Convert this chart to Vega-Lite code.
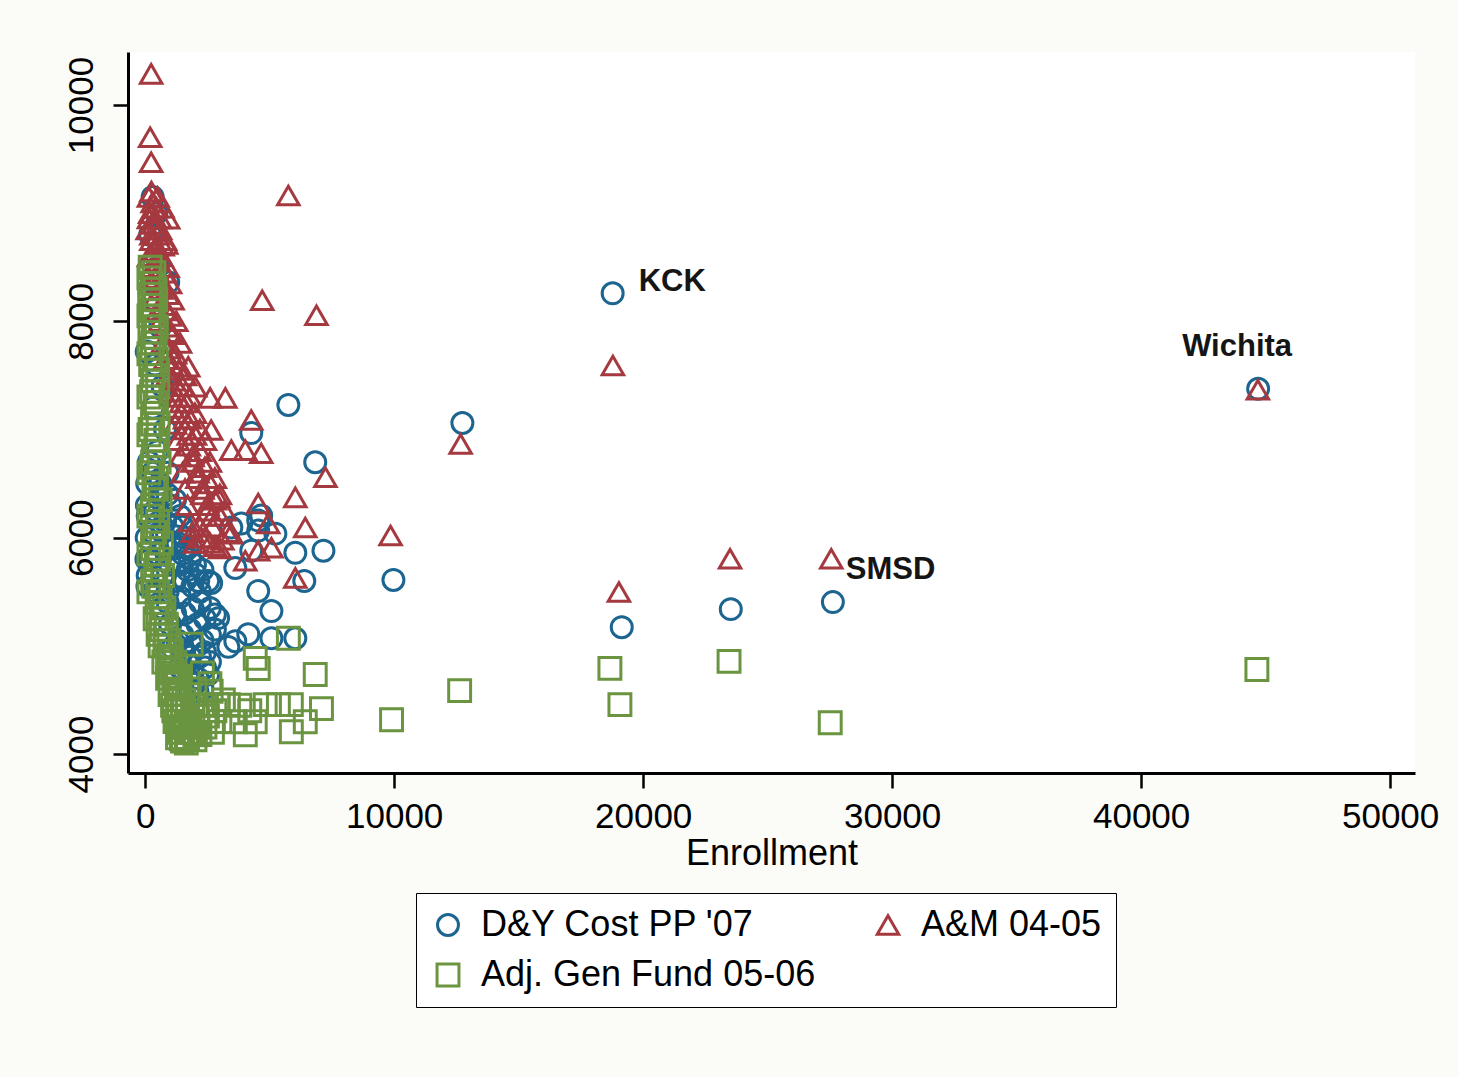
{
  "$schema": "https://vega.github.io/schema/vega-lite/v6.json",
  "width": 1287,
  "height": 721,
  "autosize": "none",
  "padding": {"left": 128, "top": 52, "right": 43, "bottom": 304},
  "background": "#fbfbf8",
  "config": {"view": {"stroke": null, "fill": "white"}, "font": "Liberation Sans"},
  "layer": [
    {
      "data": {"values": [
        {"s":"D&Y Cost PP '07","e":18775,"v":8259},{"s":"D&Y Cost PP '07","e":44700,"v":7376},{"s":"D&Y Cost PP '07","e":27620,"v":5404},{"s":"D&Y Cost PP '07","e":23520,"v":5339},{"s":"D&Y Cost PP '07","e":19140,"v":5172},{"s":"D&Y Cost PP '07","e":12740,"v":7060},{"s":"D&Y Cost PP '07","e":9970,"v":5609},{"s":"D&Y Cost PP '07","e":5750,"v":7227},{"s":"D&Y Cost PP '07","e":7160,"v":5879},{"s":"D&Y Cost PP '07","e":6030,"v":5860},{"s":"D&Y Cost PP '07","e":6390,"v":5600},{"s":"D&Y Cost PP '07","e":6830,"v":6697},{"s":"D&Y Cost PP '07","e":4260,"v":6967},{"s":"D&Y Cost PP '07","e":3620,"v":5720},{"s":"D&Y Cost PP '07","e":4540,"v":5507},{"s":"D&Y Cost PP '07","e":5070,"v":5321},{"s":"D&Y Cost PP '07","e":6030,"v":5070},{"s":"D&Y Cost PP '07","e":5070,"v":5070},{"s":"D&Y Cost PP '07","e":3620,"v":5042},{"s":"D&Y Cost PP '07","e":4140,"v":5107},{"s":"D&Y Cost PP '07","e":2930,"v":5256},{"s":"D&Y Cost PP '07","e":2530,"v":5600},{"s":"D&Y Cost PP '07","e":2130,"v":5600},{"s":"D&Y Cost PP '07","e":3460,"v":6093},{"s":"D&Y Cost PP '07","e":3860,"v":6130},{"s":"D&Y Cost PP '07","e":4540,"v":6065},{"s":"D&Y Cost PP '07","e":5230,"v":6037},{"s":"D&Y Cost PP '07","e":4540,"v":6158},{"s":"D&Y Cost PP '07","e":4260,"v":5879},{"s":"D&Y Cost PP '07","e":4660,"v":6204},{"s":"D&Y Cost PP '07","e":3340,"v":4990},{"s":"D&Y Cost PP '07","e":2650,"v":5581},{"s":"D&Y Cost PP '07","e":2010,"v":5665},{"s":"D&Y Cost PP '07","e":2530,"v":4735},{"s":"D&Y Cost PP '07","e":2400,"v":4940},{"s":"D&Y Cost PP '07","e":2800,"v":5290},
        {"s":"D&Y Cost PP '07","e":300,"v":9150},{"s":"D&Y Cost PP '07","e":450,"v":9000},{"s":"D&Y Cost PP '07","e":200,"v":8800},{"s":"D&Y Cost PP '07","e":925,"v":8361},{"s":"D&Y Cost PP '07","e":500,"v":8500},{"s":"D&Y Cost PP '07","e":350,"v":8200},{"s":"D&Y Cost PP '07","e":600,"v":7950},{"s":"D&Y Cost PP '07","e":60,"v":7720},{"s":"D&Y Cost PP '07","e":400,"v":7600},{"s":"D&Y Cost PP '07","e":700,"v":7400},{"s":"D&Y Cost PP '07","e":300,"v":7200},{"s":"D&Y Cost PP '07","e":800,"v":7000},{"s":"D&Y Cost PP '07","e":500,"v":6800},{"s":"D&Y Cost PP '07","e":150,"v":6700},{"s":"D&Y Cost PP '07","e":900,"v":6600},{"s":"D&Y Cost PP '07","e":600,"v":6400},{"s":"D&Y Cost PP '07","e":1000,"v":6300},{"s":"D&Y Cost PP '07","e":100,"v":6200},{"s":"D&Y Cost PP '07","e":1100,"v":6100},{"s":"D&Y Cost PP '07","e":700,"v":6050},{"s":"D&Y Cost PP '07","e":60,"v":6000},{"s":"D&Y Cost PP '07","e":1300,"v":5950},{"s":"D&Y Cost PP '07","e":800,"v":5900},{"s":"D&Y Cost PP '07","e":1500,"v":5850},{"s":"D&Y Cost PP '07","e":200,"v":5800},{"s":"D&Y Cost PP '07","e":1000,"v":5750},{"s":"D&Y Cost PP '07","e":1700,"v":5700},{"s":"D&Y Cost PP '07","e":100,"v":5650},{"s":"D&Y Cost PP '07","e":1200,"v":5600},{"s":"D&Y Cost PP '07","e":1900,"v":5550},{"s":"D&Y Cost PP '07","e":400,"v":5500},{"s":"D&Y Cost PP '07","e":1400,"v":5450},{"s":"D&Y Cost PP '07","e":2200,"v":5400},{"s":"D&Y Cost PP '07","e":700,"v":5350},{"s":"D&Y Cost PP '07","e":1600,"v":5300},{"s":"D&Y Cost PP '07","e":2400,"v":5250},{"s":"D&Y Cost PP '07","e":1000,"v":5200},{"s":"D&Y Cost PP '07","e":1800,"v":5150},{"s":"D&Y Cost PP '07","e":2600,"v":5100},{"s":"D&Y Cost PP '07","e":1300,"v":5050},{"s":"D&Y Cost PP '07","e":2000,"v":5000},{"s":"D&Y Cost PP '07","e":1500,"v":4950},{"s":"D&Y Cost PP '07","e":2200,"v":4900},{"s":"D&Y Cost PP '07","e":1700,"v":4850},{"s":"D&Y Cost PP '07","e":2400,"v":4800},{"s":"D&Y Cost PP '07","e":1900,"v":4750},{"s":"D&Y Cost PP '07","e":2100,"v":4700},{"s":"D&Y Cost PP '07","e":1800,"v":4600},{"s":"D&Y Cost PP '07","e":2100,"v":4577},{"s":"D&Y Cost PP '07","e":1200,"v":5900},{"s":"D&Y Cost PP '07","e":900,"v":5500},{"s":"D&Y Cost PP '07","e":1600,"v":6000},{"s":"D&Y Cost PP '07","e":2300,"v":5700},{"s":"D&Y Cost PP '07","e":1400,"v":6200},{"s":"D&Y Cost PP '07","e":1800,"v":5800},{"s":"D&Y Cost PP '07","e":80,"v":6500},{"s":"D&Y Cost PP '07","e":50,"v":5800},{"s":"D&Y Cost PP '07","e":90,"v":5550},{"s":"D&Y Cost PP '07","e":70,"v":6300},
        {"s":"D&Y Cost PP '07","e":300,"v":6600},{"s":"D&Y Cost PP '07","e":600,"v":6500},{"s":"D&Y Cost PP '07","e":900,"v":6400},{"s":"D&Y Cost PP '07","e":1200,"v":6350},{"s":"D&Y Cost PP '07","e":400,"v":6250},{"s":"D&Y Cost PP '07","e":800,"v":6150},{"s":"D&Y Cost PP '07","e":1500,"v":6100},{"s":"D&Y Cost PP '07","e":300,"v":6050},{"s":"D&Y Cost PP '07","e":1100,"v":5950},{"s":"D&Y Cost PP '07","e":1700,"v":5900},{"s":"D&Y Cost PP '07","e":500,"v":5850},{"s":"D&Y Cost PP '07","e":1400,"v":5750},{"s":"D&Y Cost PP '07","e":2000,"v":5750},{"s":"D&Y Cost PP '07","e":700,"v":5650},{"s":"D&Y Cost PP '07","e":1600,"v":5600},{"s":"D&Y Cost PP '07","e":2200,"v":5500},{"s":"D&Y Cost PP '07","e":900,"v":5400},{"s":"D&Y Cost PP '07","e":1900,"v":5350},{"s":"D&Y Cost PP '07","e":2600,"v":5350},{"s":"D&Y Cost PP '07","e":1200,"v":5300},{"s":"D&Y Cost PP '07","e":2100,"v":5200},{"s":"D&Y Cost PP '07","e":2800,"v":5150},{"s":"D&Y Cost PP '07","e":1500,"v":5100},{"s":"D&Y Cost PP '07","e":2300,"v":5050},{"s":"D&Y Cost PP '07","e":1100,"v":4980},{"s":"D&Y Cost PP '07","e":1800,"v":4900},{"s":"D&Y Cost PP '07","e":2600,"v":4850},{"s":"D&Y Cost PP '07","e":1400,"v":4800},{"s":"D&Y Cost PP '07","e":2000,"v":4650},{"s":"D&Y Cost PP '07","e":2300,"v":4600},

        {"s":"A&M 04-05","e":240,"v":10288},{"s":"A&M 04-05","e":200,"v":9702},{"s":"A&M 04-05","e":240,"v":9470},{"s":"A&M 04-05","e":5750,"v":9163},{"s":"A&M 04-05","e":4700,"v":8195},{"s":"A&M 04-05","e":6880,"v":8056},{"s":"A&M 04-05","e":18785,"v":7591},{"s":"A&M 04-05","e":44690,"v":7367},{"s":"A&M 04-05","e":9855,"v":6019},{"s":"A&M 04-05","e":12670,"v":6865},{"s":"A&M 04-05","e":23490,"v":5805},{"s":"A&M 04-05","e":27555,"v":5805},{"s":"A&M 04-05","e":19027,"v":5498},
        {"s":"A&M 04-05","e":925,"v":8948},{"s":"A&M 04-05","e":845,"v":8715},{"s":"A&M 04-05","e":1730,"v":7580},{"s":"A&M 04-05","e":2010,"v":7395},{"s":"A&M 04-05","e":2610,"v":7292},{"s":"A&M 04-05","e":3220,"v":7292},{"s":"A&M 04-05","e":4260,"v":7088},{"s":"A&M 04-05","e":2650,"v":6995},{"s":"A&M 04-05","e":3460,"v":6809},{"s":"A&M 04-05","e":4020,"v":6809},{"s":"A&M 04-05","e":4660,"v":6781},{"s":"A&M 04-05","e":2930,"v":6372},{"s":"A&M 04-05","e":4540,"v":6316},{"s":"A&M 04-05","e":6030,"v":6372},{"s":"A&M 04-05","e":7240,"v":6558},{"s":"A&M 04-05","e":6430,"v":6093},{"s":"A&M 04-05","e":3460,"v":6037},{"s":"A&M 04-05","e":2250,"v":6000},{"s":"A&M 04-05","e":4940,"v":6130},{"s":"A&M 04-05","e":5070,"v":5907},{"s":"A&M 04-05","e":4540,"v":5879},{"s":"A&M 04-05","e":4020,"v":5786},{"s":"A&M 04-05","e":6030,"v":5628},
        {"s":"A&M 04-05","e":150,"v":9150},{"s":"A&M 04-05","e":300,"v":9100},{"s":"A&M 04-05","e":450,"v":9050},{"s":"A&M 04-05","e":200,"v":9000},{"s":"A&M 04-05","e":600,"v":8950},{"s":"A&M 04-05","e":350,"v":8900},{"s":"A&M 04-05","e":100,"v":8850},{"s":"A&M 04-05","e":500,"v":8800},{"s":"A&M 04-05","e":250,"v":8750},{"s":"A&M 04-05","e":700,"v":8700},{"s":"A&M 04-05","e":400,"v":8650},{"s":"A&M 04-05","e":150,"v":8600},{"s":"A&M 04-05","e":550,"v":8550},{"s":"A&M 04-05","e":300,"v":8500},{"s":"A&M 04-05","e":800,"v":8450},{"s":"A&M 04-05","e":450,"v":8400},{"s":"A&M 04-05","e":200,"v":8350},{"s":"A&M 04-05","e":650,"v":8300},{"s":"A&M 04-05","e":900,"v":8250},{"s":"A&M 04-05","e":350,"v":8200},{"s":"A&M 04-05","e":750,"v":8150},{"s":"A&M 04-05","e":500,"v":8100},{"s":"A&M 04-05","e":1000,"v":8050},{"s":"A&M 04-05","e":600,"v":8000},{"s":"A&M 04-05","e":850,"v":7950},{"s":"A&M 04-05","e":1100,"v":7880},{"s":"A&M 04-05","e":700,"v":7800},{"s":"A&M 04-05","e":950,"v":7750},{"s":"A&M 04-05","e":1200,"v":7700},{"s":"A&M 04-05","e":800,"v":7650},{"s":"A&M 04-05","e":1050,"v":7600},{"s":"A&M 04-05","e":1350,"v":7550},{"s":"A&M 04-05","e":900,"v":7500},{"s":"A&M 04-05","e":1150,"v":7450},{"s":"A&M 04-05","e":1500,"v":7400},{"s":"A&M 04-05","e":1000,"v":7350},{"s":"A&M 04-05","e":1300,"v":7300},{"s":"A&M 04-05","e":1650,"v":7250},{"s":"A&M 04-05","e":1100,"v":7200},{"s":"A&M 04-05","e":1450,"v":7150},{"s":"A&M 04-05","e":1800,"v":7100},{"s":"A&M 04-05","e":1200,"v":7050},{"s":"A&M 04-05","e":1600,"v":7000},{"s":"A&M 04-05","e":2000,"v":6950},{"s":"A&M 04-05","e":1300,"v":6900},{"s":"A&M 04-05","e":1750,"v":6850},{"s":"A&M 04-05","e":2200,"v":6800},{"s":"A&M 04-05","e":1400,"v":6750},{"s":"A&M 04-05","e":1900,"v":6700},{"s":"A&M 04-05","e":2400,"v":6650},{"s":"A&M 04-05","e":1500,"v":6600},{"s":"A&M 04-05","e":2100,"v":6550},{"s":"A&M 04-05","e":2600,"v":6500},{"s":"A&M 04-05","e":1600,"v":6450},{"s":"A&M 04-05","e":2300,"v":6400},{"s":"A&M 04-05","e":2800,"v":6350},{"s":"A&M 04-05","e":1700,"v":6300},{"s":"A&M 04-05","e":2500,"v":6250},{"s":"A&M 04-05","e":3000,"v":6200},{"s":"A&M 04-05","e":1800,"v":6150},{"s":"A&M 04-05","e":2700,"v":6100},{"s":"A&M 04-05","e":1900,"v":6050},{"s":"A&M 04-05","e":2400,"v":6000},{"s":"A&M 04-05","e":3100,"v":5980},{"s":"A&M 04-05","e":2000,"v":5950},{"s":"A&M 04-05","e":2800,"v":5920},
        {"s":"A&M 04-05","e":250,"v":9200},{"s":"A&M 04-05","e":500,"v":9150},{"s":"A&M 04-05","e":700,"v":9050},{"s":"A&M 04-05","e":150,"v":8950},{"s":"A&M 04-05","e":400,"v":8950},{"s":"A&M 04-05","e":600,"v":8850},{"s":"A&M 04-05","e":250,"v":8800},{"s":"A&M 04-05","e":800,"v":8750},{"s":"A&M 04-05","e":450,"v":8700},{"s":"A&M 04-05","e":300,"v":8600},{"s":"A&M 04-05","e":650,"v":8600},{"s":"A&M 04-05","e":900,"v":8500},{"s":"A&M 04-05","e":500,"v":8450},{"s":"A&M 04-05","e":1000,"v":8350},{"s":"A&M 04-05","e":700,"v":8350},{"s":"A&M 04-05","e":1100,"v":8200},{"s":"A&M 04-05","e":850,"v":8100},{"s":"A&M 04-05","e":1250,"v":8000},{"s":"A&M 04-05","e":1000,"v":7900},{"s":"A&M 04-05","e":1400,"v":7800},{"s":"A&M 04-05","e":1150,"v":7650},{"s":"A&M 04-05","e":1600,"v":7500},{"s":"A&M 04-05","e":1300,"v":7400},{"s":"A&M 04-05","e":1800,"v":7300},{"s":"A&M 04-05","e":1450,"v":7250},{"s":"A&M 04-05","e":2000,"v":7150},{"s":"A&M 04-05","e":1600,"v":7100},{"s":"A&M 04-05","e":2200,"v":7000},{"s":"A&M 04-05","e":1750,"v":6950},{"s":"A&M 04-05","e":2400,"v":6900},{"s":"A&M 04-05","e":1900,"v":6750},{"s":"A&M 04-05","e":2600,"v":6700},{"s":"A&M 04-05","e":2100,"v":6600},{"s":"A&M 04-05","e":2800,"v":6550},{"s":"A&M 04-05","e":2300,"v":6450},{"s":"A&M 04-05","e":3000,"v":6400},{"s":"A&M 04-05","e":2500,"v":6300},{"s":"A&M 04-05","e":3200,"v":6250},{"s":"A&M 04-05","e":2700,"v":6200},{"s":"A&M 04-05","e":2200,"v":6100},{"s":"A&M 04-05","e":3300,"v":6050},{"s":"A&M 04-05","e":2600,"v":5950},{"s":"A&M 04-05","e":3000,"v":5900},

        {"s":"Adj. Gen Fund 05-06","e":9895,"v":4316},{"s":"Adj. Gen Fund 05-06","e":12630,"v":4586},{"s":"Adj. Gen Fund 05-06","e":18665,"v":4791},{"s":"Adj. Gen Fund 05-06","e":19067,"v":4456},{"s":"Adj. Gen Fund 05-06","e":23450,"v":4856},{"s":"Adj. Gen Fund 05-06","e":27514,"v":4288},{"s":"Adj. Gen Fund 05-06","e":44650,"v":4781},
        {"s":"Adj. Gen Fund 05-06","e":4420,"v":4884},{"s":"Adj. Gen Fund 05-06","e":4540,"v":4790},{"s":"Adj. Gen Fund 05-06","e":6830,"v":4735},{"s":"Adj. Gen Fund 05-06","e":7080,"v":4419},{"s":"Adj. Gen Fund 05-06","e":5870,"v":4456},{"s":"Adj. Gen Fund 05-06","e":6430,"v":4298},{"s":"Adj. Gen Fund 05-06","e":5870,"v":4205},{"s":"Adj. Gen Fund 05-06","e":5350,"v":4456},{"s":"Adj. Gen Fund 05-06","e":4820,"v":4456},{"s":"Adj. Gen Fund 05-06","e":4420,"v":4298},{"s":"Adj. Gen Fund 05-06","e":4020,"v":4177},{"s":"Adj. Gen Fund 05-06","e":3620,"v":4298},{"s":"Adj. Gen Fund 05-06","e":3340,"v":4456},{"s":"Adj. Gen Fund 05-06","e":2930,"v":4456},{"s":"Adj. Gen Fund 05-06","e":2410,"v":4456},{"s":"Adj. Gen Fund 05-06","e":2010,"v":4177},{"s":"Adj. Gen Fund 05-06","e":1450,"v":4140},{"s":"Adj. Gen Fund 05-06","e":1850,"v":5014},{"s":"Adj. Gen Fund 05-06","e":5750,"v":5070},{"s":"Adj. Gen Fund 05-06","e":2650,"v":4580},{"s":"Adj. Gen Fund 05-06","e":3140,"v":4500},{"s":"Adj. Gen Fund 05-06","e":3000,"v":4300},{"s":"Adj. Gen Fund 05-06","e":2700,"v":4200},{"s":"Adj. Gen Fund 05-06","e":3800,"v":4450},{"s":"Adj. Gen Fund 05-06","e":4200,"v":4400},{"s":"Adj. Gen Fund 05-06","e":2600,"v":4650},{"s":"Adj. Gen Fund 05-06","e":2300,"v":4750},{"s":"Adj. Gen Fund 05-06","e":2000,"v":4600},
        {"s":"Adj. Gen Fund 05-06","e":200,"v":8500},{"s":"Adj. Gen Fund 05-06","e":350,"v":8450},{"s":"Adj. Gen Fund 05-06","e":280,"v":8350},{"s":"Adj. Gen Fund 05-06","e":180,"v":8250},{"s":"Adj. Gen Fund 05-06","e":420,"v":8200},{"s":"Adj. Gen Fund 05-06","e":250,"v":8100},{"s":"Adj. Gen Fund 05-06","e":330,"v":8000},{"s":"Adj. Gen Fund 05-06","e":190,"v":7900},{"s":"Adj. Gen Fund 05-06","e":400,"v":7850},{"s":"Adj. Gen Fund 05-06","e":270,"v":7750},{"s":"Adj. Gen Fund 05-06","e":450,"v":7650},{"s":"Adj. Gen Fund 05-06","e":220,"v":7600},{"s":"Adj. Gen Fund 05-06","e":350,"v":7500},{"s":"Adj. Gen Fund 05-06","e":500,"v":7400},{"s":"Adj. Gen Fund 05-06","e":260,"v":7350},{"s":"Adj. Gen Fund 05-06","e":400,"v":7250},{"s":"Adj. Gen Fund 05-06","e":300,"v":7150},{"s":"Adj. Gen Fund 05-06","e":520,"v":7050},{"s":"Adj. Gen Fund 05-06","e":200,"v":7000},{"s":"Adj. Gen Fund 05-06","e":430,"v":6900},{"s":"Adj. Gen Fund 05-06","e":330,"v":6800},{"s":"Adj. Gen Fund 05-06","e":560,"v":6700},{"s":"Adj. Gen Fund 05-06","e":250,"v":6650},{"s":"Adj. Gen Fund 05-06","e":450,"v":6550},{"s":"Adj. Gen Fund 05-06","e":350,"v":6450},{"s":"Adj. Gen Fund 05-06","e":600,"v":6350},{"s":"Adj. Gen Fund 05-06","e":280,"v":6250},{"s":"Adj. Gen Fund 05-06","e":500,"v":6150},{"s":"Adj. Gen Fund 05-06","e":380,"v":6050},{"s":"Adj. Gen Fund 05-06","e":650,"v":5950},{"s":"Adj. Gen Fund 05-06","e":300,"v":5900},{"s":"Adj. Gen Fund 05-06","e":550,"v":5800},{"s":"Adj. Gen Fund 05-06","e":420,"v":5700},{"s":"Adj. Gen Fund 05-06","e":700,"v":5650},{"s":"Adj. Gen Fund 05-06","e":350,"v":5550},{"s":"Adj. Gen Fund 05-06","e":600,"v":5450},{"s":"Adj. Gen Fund 05-06","e":480,"v":5400},{"s":"Adj. Gen Fund 05-06","e":750,"v":5350},{"s":"Adj. Gen Fund 05-06","e":520,"v":5250},{"s":"Adj. Gen Fund 05-06","e":850,"v":5200},{"s":"Adj. Gen Fund 05-06","e":650,"v":5150},{"s":"Adj. Gen Fund 05-06","e":950,"v":5050},{"s":"Adj. Gen Fund 05-06","e":520,"v":5107},{"s":"Adj. Gen Fund 05-06","e":800,"v":5000},{"s":"Adj. Gen Fund 05-06","e":1050,"v":4950},{"s":"Adj. Gen Fund 05-06","e":900,"v":4880},{"s":"Adj. Gen Fund 05-06","e":1200,"v":4850},{"s":"Adj. Gen Fund 05-06","e":1000,"v":4780},{"s":"Adj. Gen Fund 05-06","e":1300,"v":4720},{"s":"Adj. Gen Fund 05-06","e":1150,"v":4650},{"s":"Adj. Gen Fund 05-06","e":1400,"v":4600},{"s":"Adj. Gen Fund 05-06","e":1250,"v":4550},{"s":"Adj. Gen Fund 05-06","e":1550,"v":4500},{"s":"Adj. Gen Fund 05-06","e":1100,"v":4450},{"s":"Adj. Gen Fund 05-06","e":1350,"v":4420},{"s":"Adj. Gen Fund 05-06","e":1700,"v":4400},{"s":"Adj. Gen Fund 05-06","e":1500,"v":4350},{"s":"Adj. Gen Fund 05-06","e":1200,"v":4300},{"s":"Adj. Gen Fund 05-06","e":1800,"v":4300},{"s":"Adj. Gen Fund 05-06","e":1600,"v":4250},{"s":"Adj. Gen Fund 05-06","e":1400,"v":4200},{"s":"Adj. Gen Fund 05-06","e":1900,"v":4200},{"s":"Adj. Gen Fund 05-06","e":1700,"v":4150},{"s":"Adj. Gen Fund 05-06","e":2000,"v":4130},{"s":"Adj. Gen Fund 05-06","e":1500,"v":4120},{"s":"Adj. Gen Fund 05-06","e":2200,"v":4180},{"s":"Adj. Gen Fund 05-06","e":2400,"v":4250},{"s":"Adj. Gen Fund 05-06","e":2100,"v":4350},{"s":"Adj. Gen Fund 05-06","e":2300,"v":4450},
        {"s":"Adj. Gen Fund 05-06","e":150,"v":8400},{"s":"Adj. Gen Fund 05-06","e":400,"v":8300},{"s":"Adj. Gen Fund 05-06","e":300,"v":8150},{"s":"Adj. Gen Fund 05-06","e":150,"v":8050},{"s":"Adj. Gen Fund 05-06","e":450,"v":7950},{"s":"Adj. Gen Fund 05-06","e":300,"v":7800},{"s":"Adj. Gen Fund 05-06","e":150,"v":7700},{"s":"Adj. Gen Fund 05-06","e":500,"v":7550},{"s":"Adj. Gen Fund 05-06","e":300,"v":7450},{"s":"Adj. Gen Fund 05-06","e":150,"v":7300},{"s":"Adj. Gen Fund 05-06","e":450,"v":7200},{"s":"Adj. Gen Fund 05-06","e":300,"v":7050},{"s":"Adj. Gen Fund 05-06","e":150,"v":6950},{"s":"Adj. Gen Fund 05-06","e":500,"v":6850},{"s":"Adj. Gen Fund 05-06","e":300,"v":6700},{"s":"Adj. Gen Fund 05-06","e":150,"v":6600},{"s":"Adj. Gen Fund 05-06","e":450,"v":6450},{"s":"Adj. Gen Fund 05-06","e":300,"v":6300},{"s":"Adj. Gen Fund 05-06","e":150,"v":6200},{"s":"Adj. Gen Fund 05-06","e":500,"v":6100},{"s":"Adj. Gen Fund 05-06","e":300,"v":6000},{"s":"Adj. Gen Fund 05-06","e":150,"v":5850},{"s":"Adj. Gen Fund 05-06","e":450,"v":5750},{"s":"Adj. Gen Fund 05-06","e":300,"v":5600},{"s":"Adj. Gen Fund 05-06","e":150,"v":5500},{"s":"Adj. Gen Fund 05-06","e":500,"v":5500},{"s":"Adj. Gen Fund 05-06","e":650,"v":5300},{"s":"Adj. Gen Fund 05-06","e":400,"v":5250},{"s":"Adj. Gen Fund 05-06","e":800,"v":5100},{"s":"Adj. Gen Fund 05-06","e":600,"v":5000},{"s":"Adj. Gen Fund 05-06","e":1000,"v":4900},{"s":"Adj. Gen Fund 05-06","e":750,"v":4850},{"s":"Adj. Gen Fund 05-06","e":1100,"v":4750},{"s":"Adj. Gen Fund 05-06","e":900,"v":4700},{"s":"Adj. Gen Fund 05-06","e":1250,"v":4650},{"s":"Adj. Gen Fund 05-06","e":1000,"v":4550},{"s":"Adj. Gen Fund 05-06","e":1350,"v":4500},{"s":"Adj. Gen Fund 05-06","e":1150,"v":4400},{"s":"Adj. Gen Fund 05-06","e":1500,"v":4450},{"s":"Adj. Gen Fund 05-06","e":1300,"v":4350},{"s":"Adj. Gen Fund 05-06","e":1650,"v":4300},{"s":"Adj. Gen Fund 05-06","e":1450,"v":4250},{"s":"Adj. Gen Fund 05-06","e":1800,"v":4200},{"s":"Adj. Gen Fund 05-06","e":1300,"v":4150},{"s":"Adj. Gen Fund 05-06","e":1650,"v":4100},{"s":"Adj. Gen Fund 05-06","e":2100,"v":4250},{"s":"Adj. Gen Fund 05-06","e":1900,"v":4450},{"s":"Adj. Gen Fund 05-06","e":1700,"v":4550},{"s":"Adj. Gen Fund 05-06","e":2500,"v":4350},{"s":"Adj. Gen Fund 05-06","e":2800,"v":4400}
      ]},
      "mark": {"type": "point", "filled": false, "strokeWidth": 3, "opacity": 1},
      "encoding": {
        "x": {"field": "e", "type": "quantitative",
          "scale": {"domain": [-690, 51000], "nice": false, "zero": false},
          "axis": {"title": "Enrollment", "values": [0, 10000, 20000, 30000, 40000, 50000], "format": "d", "grid": false,
            "domainColor": "black", "domainWidth": 3, "tickColor": "black", "tickWidth": 2.5, "tickSize": 15,
            "labelFontSize": 35, "labelColor": "black", "labelPadding": 11, "labelFlush": false, "labelOverlap": false,
            "titleFontSize": 36, "titleFontWeight": "normal", "titleColor": "black", "titlePadding": 2}},
        "y": {"field": "v", "type": "quantitative",
          "scale": {"domain": [3824, 10490], "nice": false, "zero": false},
          "axis": {"title": null, "values": [4000, 6000, 8000, 10000], "format": "d", "grid": false,
            "domainColor": "black", "domainWidth": 3, "tickColor": "black", "tickWidth": 2.5, "tickSize": 15,
            "labelFontSize": 35, "labelColor": "black", "labelPadding": 14, "labelAngle": 270, "labelAlign": "center", "labelBaseline": "bottom", "labelOverlap": false}},
        "size": {"field": "s", "type": "nominal",
          "scale": {"domain": ["D&Y Cost PP '07", "A&M 04-05", "Adj. Gen Fund 05-06"], "range": [440, 480, 340]},
          "legend": null},
        "color": {"field": "s", "type": "nominal",
          "scale": {"domain": ["D&Y Cost PP '07", "A&M 04-05", "Adj. Gen Fund 05-06"], "range": ["#1b6590", "#a53940", "#6a9440"]},
          "legend": {"title": null, "orient": "none", "legendX": 288, "legendY": 841, "direction": "horizontal", "columns": 2, "columnPadding": 54, "rowPadding": 14,
            "labelFontSize": 36, "labelColor": "black", "labelOffset": 15, "symbolSize": 300, "symbolStrokeWidth": 3,
            "strokeColor": "black", "fillColor": "white", "padding": 14, "labelLimit": 500,
            "encode": {"legend": {"update": {"strokeWidth": {"value": 3}}}}}},
        "shape": {"field": "s", "type": "nominal",
          "scale": {"domain": ["D&Y Cost PP '07", "A&M 04-05", "Adj. Gen Fund 05-06"], "range": ["circle", "triangle-up", "square"]},
          "legend": {"title": null, "orient": "none", "legendX": 288, "legendY": 841, "direction": "horizontal", "columns": 2, "columnPadding": 54, "rowPadding": 14,
            "labelFontSize": 36, "labelColor": "black", "labelOffset": 15, "symbolSize": 300, "symbolStrokeWidth": 3,
            "strokeColor": "black", "fillColor": "white", "padding": 14, "labelLimit": 500,
            "encode": {"legend": {"update": {"strokeWidth": {"value": 3}}}}}}
      }
    },
    {
      "data": {"values": [
        {"e": 19819, "v": 8278, "t": "KCK"},
        {"e": 41647, "v": 7683, "t": "Wichita"},
        {"e": 28140, "v": 5618, "t": "SMSD"}
      ]},
      "mark": {"type": "text", "align": "left", "baseline": "alphabetic", "fontSize": 31, "fontWeight": "bold", "color": "#151515"},
      "encoding": {
        "x": {"field": "e", "type": "quantitative"},
        "y": {"field": "v", "type": "quantitative"},
        "text": {"field": "t", "type": "nominal"}
      }
    }
  ]
}
